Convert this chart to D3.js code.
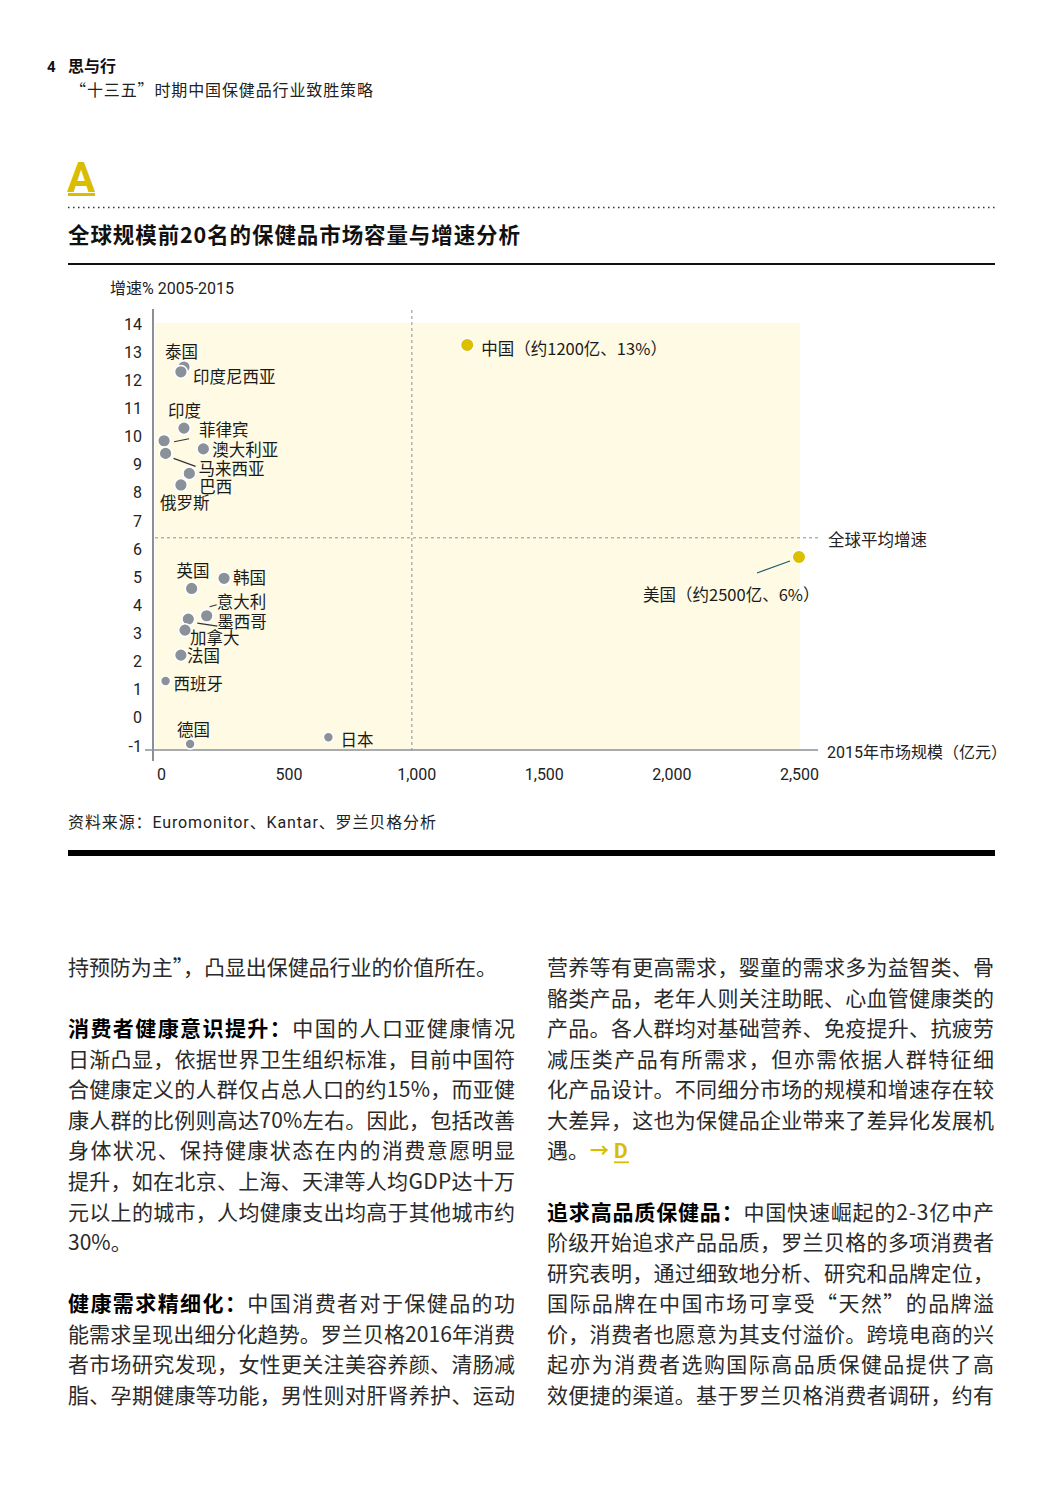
<!DOCTYPE html>
<html><head><meta charset="utf-8">
<script src="https://cdn.jsdelivr.net/npm/d3@7"></script>
<style>
html,body{margin:0;padding:0;background:#fff;}
svg{display:block;}
</style></head>
<body>
<svg id="page" width="1063" height="1506"></svg>
<script>
// ---------- DATA ----------
const countries = ["中国","美国","日本","德国","泰国","印度尼西亚","印度","菲律宾","澳大利亚","马来西亚","巴西","俄罗斯","英国","韩国","意大利","墨西哥","加拿大","法国","西班牙"];
const marketSize = [1200, 2500, 656, 114, 90, 78, 90, 12, 166, 18, 111, 78, 120, 247, 179, 107, 94, 78, 18];
const growth = [13.25, 5.72, -0.69, -0.93, 12.47, 12.3, 10.3, 9.85, 9.56, 9.4, 8.69, 8.28, 4.6, 4.96, 3.63, 3.51, 3.12, 2.23, 1.31];
const labelText = {"中国":"中国（约1200亿、13%）","美国":"美国（约2500亿、6%）"};
const xTicks = [0, 500, 1000, 1500, 2000, 2500];
const yTicks = [14,13,12,11,10,9,8,7,6,5,4,3,2,1,0,-1];
const globalAvgGrowth = 6.4;
const avgSizeLine = 983;
const highlight = ["中国","美国"];

// ---------- LAYOUT (label offsets in px, not data) ----------
const labelOffset = {
  "泰国":[-19,-9],"印度尼西亚":[12,11],"印度":[-16,-11],"菲律宾":[35,-5],"澳大利亚":[9,7],
  "马来西亚":[33,22],"巴西":[10,20],"俄罗斯":[-21,24],"英国":[-15,-11],"韩国":[9,6],
  "意大利":[10,-8],"墨西哥":[29,9],"加拿大":[5,14],"法国":[6,7],"西班牙":[8,9],
  "德国":[-13,-8],"日本":[12,9],"中国":[14,10],"美国":[-156,44]
};
const leaders = {
  "菲律宾":[[10,1],[25,-2]],"马来西亚":[[8,5],[30,13]],"意大利":[[3,-9],[10,-11]],
  "墨西哥":[[9,4],[29,7]],"美国":[[-42,16],[-9,4]]
};
const smallDots = ["西班牙","日本","德国"];

const F = "Roboto, 'Noto Sans CJK SC', sans-serif";
const CJK = "'Noto Sans CJK SC', Roboto, sans-serif";
const svg = d3.select("#page");

// ---------- HEADER ----------
svg.append("text").attr("x",47).attr("y",72).attr("font-family",F).attr("font-weight",700).attr("font-size",15).attr("fill","#111").text("4");
svg.append("text").attr("x",68).attr("y",72).attr("font-family",CJK).attr("font-weight",700).attr("font-size",16).attr("fill","#111").text("思与行");
svg.append("text").attr("x",70).attr("y",96).attr("font-family",CJK).attr("font-size",16).attr("fill","#222")
  .attr("textLength",303).attr("lengthAdjust","spacing").text("“十三五”时期中国保健品行业致胜策略");

svg.append("text").attr("x",67).attr("y",192).attr("font-family",F).attr("font-weight",700).attr("font-size",42).attr("fill","#d9bd00").text("A");
svg.append("rect").attr("x",68).attr("y",193).attr("width",27).attr("height",3).attr("fill","#d9bd00");
svg.append("line").attr("x1",68).attr("x2",995).attr("y1",207.5).attr("y2",207.5).attr("stroke","#333").attr("stroke-width",1.5).attr("stroke-dasharray","1.5 3.5");
svg.append("text").attr("x",68).attr("y",243).attr("font-family",CJK).attr("font-weight",700).attr("font-size",21.5).attr("fill","#111")
  .attr("textLength",452).attr("lengthAdjust","spacing").text("全球规模前20名的保健品市场容量与增速分析");
svg.append("rect").attr("x",68).attr("y",263).attr("width",927).attr("height",2).attr("fill","#111");

// ---------- CHART ----------
const x = d3.scaleLinear().domain([0,2500]).range([161,799]);
const y = d3.scaleLinear().domain([-1,14]).range([746,324]);
const g = svg.append("g");

g.append("rect").attr("x",x(0)-6).attr("y",y(14)-1).attr("width",x(2500)-x(0)+7).attr("height",750-(y(14)-1)).attr("fill","#fefae3");

// dashed reference lines
g.append("line").attr("x1",x(avgSizeLine)).attr("x2",x(avgSizeLine)).attr("y1",310).attr("y2",750)
  .attr("stroke","#8a8f96").attr("stroke-width",1).attr("stroke-dasharray","3 3");
g.append("line").attr("x1",x(0)-6).attr("x2",818).attr("y1",y(globalAvgGrowth)).attr("y2",y(globalAvgGrowth))
  .attr("stroke","#8a8f96").attr("stroke-width",1).attr("stroke-dasharray","3 3");

// axes lines
g.append("line").attr("x1",153).attr("x2",153).attr("y1",309).attr("y2",761).attr("stroke","#8a9097").attr("stroke-width",2);
g.append("line").attr("x1",145).attr("x2",818).attr("y1",750).attr("y2",750).attr("stroke","#8a9097").attr("stroke-width",1.5);

// y axis ticks
const yAxis = g.append("g").attr("transform","translate(153,0)")
  .call(d3.axisLeft(y).tickValues(yTicks).tickSize(0).tickPadding(11).tickFormat(d=>String(d)));
yAxis.select(".domain").remove();
yAxis.selectAll("text").attr("font-family",F).attr("font-size",16).attr("fill","#222");

// x axis ticks
const xAxis = g.append("g").attr("transform","translate(0,763)")
  .call(d3.axisBottom(x).tickValues(xTicks).tickSize(0).tickPadding(6).tickFormat(d3.format(",")));
xAxis.select(".domain").remove();
xAxis.selectAll("text").attr("font-family",F).attr("font-size",16).attr("fill","#222");

// axis titles
svg.append("text").attr("x",110).attr("y",294).attr("font-family",F).attr("font-size",16).attr("fill","#222").text("增速% 2005-2015");
svg.append("text").attr("x",827).attr("y",758).attr("font-family",F).attr("font-size",16).attr("fill","#222").text("2015年市场规模（亿元）");
svg.append("text").attr("x",828).attr("y",546).attr("font-family",CJK).attr("font-size",16.5).attr("fill","#222").text("全球平均增速");

const data = countries.map((c,i)=>({name:c,size:marketSize[i],g:growth[i]}));

// leader lines
g.selectAll("line.leader").data(data.filter(d=>leaders[d.name])).join("line").attr("class","leader")
  .attr("x1",d=>x(d.size)+leaders[d.name][0][0]).attr("y1",d=>y(d.g)+leaders[d.name][0][1])
  .attr("x2",d=>x(d.size)+leaders[d.name][1][0]).attr("y2",d=>y(d.g)+leaders[d.name][1][1])
  .attr("stroke",d=>d.name==="美国"?"#1d5a6a":"#333").attr("stroke-width",1.2);

// dots
g.selectAll("circle.dot").data(data).join("circle").attr("class","dot")
  .attr("cx",d=>x(d.size)).attr("cy",d=>y(d.g))
  .attr("r",d=>highlight.includes(d.name)?6.8:(smallDots.includes(d.name)?5:6.4))
  .attr("fill",d=>highlight.includes(d.name)?"#dcbf00":"#8b9199")
  .attr("stroke","#fff").attr("stroke-width",1.6);

// labels
g.selectAll("text.lbl").data(data).join("text").attr("class","lbl")
  .attr("x",d=>x(d.size)+labelOffset[d.name][0]).attr("y",d=>y(d.g)+labelOffset[d.name][1])
  .attr("font-family",CJK).attr("font-size",16.5).attr("fill","#1a1a1a")
  .text(d=>labelText[d.name]||d.name);

// source
svg.append("text").attr("x",68).attr("y",828).attr("font-family",F).attr("font-size",16).attr("fill","#222")
  .attr("textLength",368).attr("lengthAdjust","spacing").text("资料来源：Euromonitor、Kantar、罗兰贝格分析");
svg.append("rect").attr("x",68).attr("y",850).attr("width",927).attr("height",6).attr("fill","#000");

// ---------- BODY TEXT ----------
const leftLines = [
  {i:0, t:"持预防为主”，凸显出保健品行业的价值所在。", w:429},
  {i:2, b:"消费者健康意识提升：", t:"中国的人口亚健康情况", w:447},
  {i:3, t:"日渐凸显，依据世界卫生组织标准，目前中国符", w:447},
  {i:4, t:"合健康定义的人群仅占总人口的约15%，而亚健", w:447},
  {i:5, t:"康人群的比例则高达70%左右。因此，包括改善", w:447},
  {i:6, t:"身体状况、保持健康状态在内的消费意愿明显", w:447},
  {i:7, t:"提升，如在北京、上海、天津等人均GDP达十万", w:447},
  {i:8, t:"元以上的城市，人均健康支出均高于其他城市约", w:447},
  {i:9, t:"30%。"},
  {i:11, b:"健康需求精细化：", t:"中国消费者对于保健品的功", w:447},
  {i:12, t:"能需求呈现出细分化趋势。罗兰贝格2016年消费", w:447},
  {i:13, t:"者市场研究发现，女性更关注美容养颜、清肠减", w:447},
  {i:14, t:"脂、孕期健康等功能，男性则对肝肾养护、运动", w:447}
];
const rightLines = [
  {i:0, t:"营养等有更高需求，婴童的需求多为益智类、骨", w:447},
  {i:1, t:"骼类产品，老年人则关注助眠、心血管健康类的", w:447},
  {i:2, t:"产品。各人群均对基础营养、免疫提升、抗疲劳", w:447},
  {i:3, t:"减压类产品有所需求，但亦需依据人群特征细", w:447},
  {i:4, t:"化产品设计。不同细分市场的规模和增速存在较", w:447},
  {i:5, t:"大差异，这也为保健品企业带来了差异化发展机", w:447},
  {i:6, t:"遇。", link:true},
  {i:8, b:"追求高品质保健品：", t:"中国快速崛起的2-3亿中产", w:447},
  {i:9, t:"阶级开始追求产品品质，罗兰贝格的多项消费者", w:447},
  {i:10, t:"研究表明，通过细致地分析、研究和品牌定位，", w:447},
  {i:11, t:"国际品牌在中国市场可享受“天然”的品牌溢", w:447},
  {i:12, t:"价，消费者也愿意为其支付溢价。跨境电商的兴", w:447},
  {i:13, t:"起亦为消费者选购国际高品质保健品提供了高", w:447},
  {i:14, t:"效便捷的渠道。基于罗兰贝格消费者调研，约有", w:447}
];
function drawCol(lines, x0){
  lines.forEach(l=>{
    const yy = 975 + l.i*30.57;
    const t = svg.append("text").attr("x",x0).attr("y",yy).attr("font-family",CJK).attr("font-size",21).attr("fill","#2a2a2a");
    if(l.w){ t.attr("textLength",l.w).attr("lengthAdjust","spacing"); }
    if(l.b){ t.append("tspan").attr("font-weight",700).attr("fill","#000").text(l.b); }
    t.append("tspan").text(l.t);
    if(l.link){
      svg.append("text").attr("x",x0+43).attr("y",yy).attr("font-family",F).attr("font-weight",700).attr("font-size",19).attr("fill","#d9bd00").text("→");
      svg.append("text").attr("x",x0+67).attr("y",yy).attr("font-family",F).attr("font-weight",700).attr("font-size",21).attr("fill","#d9bd00").text("D");
      svg.append("rect").attr("x",x0+67).attr("y",yy+3).attr("width",15).attr("height",1.8).attr("fill","#d9bd00");
    }
  });
}
drawCol(leftLines, 68);
drawCol(rightLines, 547);
</script>
</body></html>
